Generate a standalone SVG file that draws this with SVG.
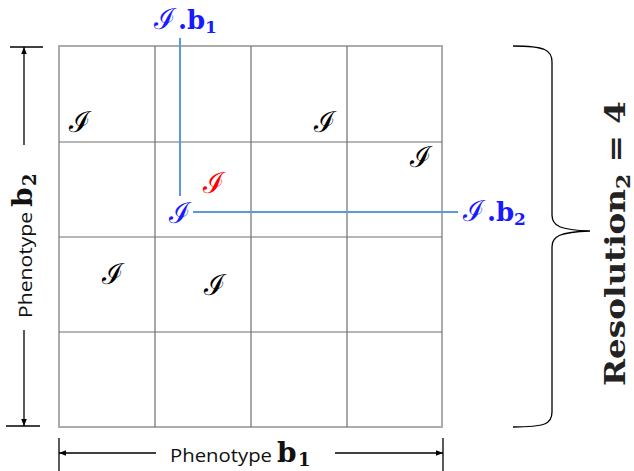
<svg xmlns="http://www.w3.org/2000/svg" width="634" height="471" viewBox="0 0 634 471">
<style>
.outer{fill:none;stroke:#ababab;stroke-width:2}
.inner{stroke:#6e6e6e;stroke-width:1.2}
.dim{stroke:#000;stroke-width:1.3;fill:none}
.ci{font-size:29px;text-anchor:middle}
.lab{font-family:"Open Sans","Liberation Sans",sans-serif;font-size:19px;fill:#111}
.bm{font-family:"DejaVu Serif","Liberation Serif",serif;font-weight:bold;fill:#111}
.blue{fill:#1a1aff}
.conn{stroke:#5b9bd5;stroke-width:2;fill:none}
</style>
<defs>
<marker id="ah" viewBox="0 0 10 10" refX="10" refY="5" markerWidth="7" markerHeight="7" orient="auto-start-reverse" markerUnits="userSpaceOnUse">
<path d="M0,1 L10,5 L0,9 z" fill="#000"/>
</marker>
</defs>
<g id="grid">
<rect class="outer" x="59" y="46" width="383" height="381"/>
<line class="inner" x1="155" y1="46" x2="155" y2="427"/>
<line class="inner" x1="251" y1="46" x2="251" y2="427"/>
<line class="inner" x1="347" y1="46" x2="347" y2="427"/>
<line class="inner" x1="59" y1="142" x2="442" y2="142"/>
<line class="inner" x1="59" y1="237" x2="442" y2="237"/>
<line class="inner" x1="59" y1="332" x2="442" y2="332"/>
</g>
<g id="connectors">
<line class="conn" x1="180" y1="38" x2="180" y2="196"/>
<line class="conn" x1="193" y1="212" x2="458" y2="212"/>
</g>
<g id="points" font-family="DejaVu Serif,serif">
<text class="ci" x="80" y="132">ℐ</text>
<text class="ci" x="325" y="132">ℐ</text>
<text class="ci" x="421" y="167">ℐ</text>
<text class="ci" x="214" y="193" fill="#ff0000">ℐ</text>
<text class="ci blue" x="180" y="223">ℐ</text>
<text class="ci" x="113" y="284">ℐ</text>
<text class="ci" x="215" y="295">ℐ</text>
</g>
<g id="label-b1" font-family="DejaVu Serif,serif">
<text class="ci blue" x="165" y="29">ℐ</text>
<text class="blue" x="178" y="29" font-size="26px" font-weight="bold">.b</text>
<text class="blue" x="205" y="33" font-size="17px" font-weight="bold">1</text>
</g>
<g id="label-b2" font-family="DejaVu Serif,serif">
<text class="ci blue" x="474" y="221">ℐ</text>
<text class="blue" x="487" y="221" font-size="26px" font-weight="bold">.b</text>
<text class="blue" x="514" y="225" font-size="17px" font-weight="bold">2</text>
</g>
<g id="axis-b2">
<line class="dim" x1="10" y1="47" x2="43" y2="47"/>
<line class="dim" x1="6" y1="426" x2="40" y2="426"/>
<line class="dim" x1="24" y1="145" x2="24" y2="47" marker-end="url(#ah)"/>
<line class="dim" x1="24" y1="330" x2="24" y2="426" marker-end="url(#ah)"/>
<g transform="translate(32,318) rotate(-90)">
<text class="lab" x="0" y="0" textLength="106" lengthAdjust="spacingAndGlyphs">Phenotype</text>
<text class="bm" x="111" y="0" font-size="28px">b</text>
<text class="bm" x="132" y="4" font-size="18px">2</text>
</g>
</g>
<g id="axis-b1">
<line class="dim" x1="59" y1="438" x2="59" y2="471"/>
<line class="dim" x1="443" y1="438" x2="443" y2="471"/>
<line class="dim" x1="156" y1="453" x2="59" y2="453" marker-end="url(#ah)"/>
<line class="dim" x1="335" y1="453" x2="443" y2="453" marker-end="url(#ah)"/>
<text class="lab" x="170" y="462" textLength="102" lengthAdjust="spacingAndGlyphs">Phenotype</text>
<text class="bm" x="277" y="462" font-size="28px">b</text>
<text class="bm" x="298" y="466" font-size="18px">1</text>
</g>
<g id="brace">
<path class="dim" d="M513,46 C545,46 552,50 552,62 L552,215 C552,226 560,230 590,231 C560,232 552,236 552,247 L552,412 C552,424 545,427 513,427"/>
<text transform="translate(625,386) rotate(-90)" font-family="DejaVu Serif,serif" font-weight="bold" font-size="27px" fill="#222" textLength="285" lengthAdjust="spacingAndGlyphs">Resolution<tspan font-size="18px" dy="5">2</tspan><tspan dy="-5"> = 4</tspan></text>
</g>
</svg>
